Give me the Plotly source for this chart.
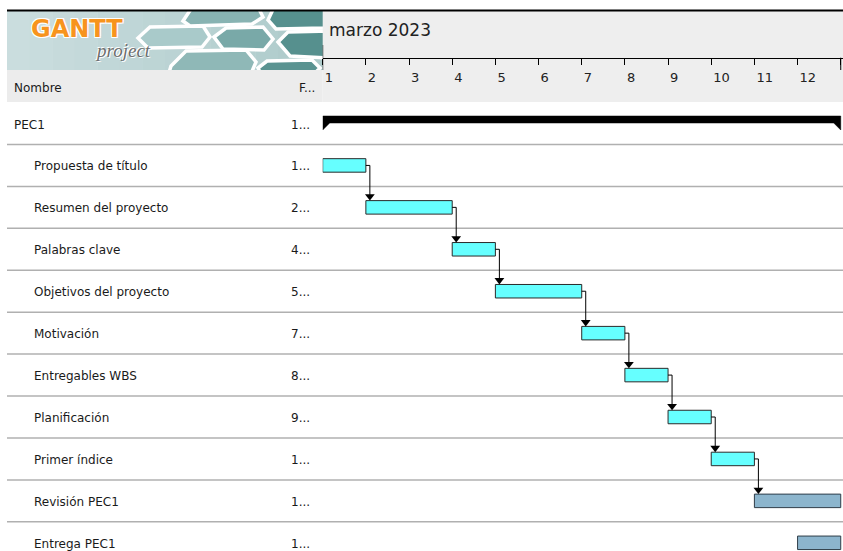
import plotly.graph_objects as go

W, H = 843, 551

# ---------------- data ----------------
month_label = "marzo 2023"
name_header = "Nombre"
date_header = "F..."
summary_name = "PEC1"
summary_date_label = "1..."
task_names = [
    "Propuesta de título", "Resumen del proyecto", "Palabras clave",
    "Objetivos del proyecto", "Motivación", "Entregables WBS",
    "Planificación", "Primer índice", "Revisión PEC1", "Entrega PEC1",
]
task_start = [1, 2, 4, 5, 7, 8, 9, 10, 11, 12]   # day of March 2023
task_end = [2, 4, 5, 7, 8, 9, 10, 11, 13, 13]
task_date_labels = ["1...", "2...", "4...", "5...", "7...", "8...", "9...", "1...", "1...", "1..."]
task_kind = ["normal"] * 8 + ["review", "review"]
dependencies = [
    ("Propuesta de título", "Resumen del proyecto"),
    ("Resumen del proyecto", "Palabras clave"),
    ("Palabras clave", "Objetivos del proyecto"),
    ("Objetivos del proyecto", "Motivación"),
    ("Motivación", "Entregables WBS"),
    ("Entregables WBS", "Planificación"),
    ("Planificación", "Primer índice"),
    ("Primer índice", "Revisión PEC1"),
]
day_ticks = list(range(1, 14))
day_tick_labels = [str(d) for d in range(1, 13)] + [""]

# ---------------- geometry / style ----------------
X0_PX = 322.7          # pixel of day 1
PX_PER_DAY = 43.17
ROW0_PX = 123.5        # pixel centre of first row
ROW_H = 41.93
FONT = "DejaVu Sans"
kind_color = {"normal": "#66ffff", "review": "#8cb5cd"}
kind_line = {"normal": "#2a2a2a", "review": "#2f3d48"}

def py(p):   # pixel y -> paper y
    return 1 - p / H

def px(p):   # pixel x -> paper x
    return p / W

x_range = [day_ticks[0], day_ticks[0] + (W - X0_PX) / PX_PER_DAY]
y_range = [(H - ROW0_PX) / ROW_H, -ROW0_PX / ROW_H]

rows = list(range(1, len(task_names) + 1))
row_of = {n: r for n, r in zip(task_names, rows)}
end_of = dict(zip(task_names, task_end))

fig = go.Figure()

# task bars
bar_w = 13.5 / ROW_H
fig.add_trace(go.Bar(
    orientation="h",
    y=rows,
    base=task_start,
    x=[e - s for s, e in zip(task_start, task_end)],
    width=bar_w,
    marker=dict(color=[kind_color[k] for k in task_kind],
                line=dict(color=[kind_line[k] for k in task_kind], width=1)),
    hoverinfo="skip",
    showlegend=False,
))

# summary bar (PEC1)
s_start, s_end = min(task_start), max(task_end)
top = -7.5 / ROW_H
bot = -0.5 / ROW_H
tip = 6.5 / ROW_H
tw = 7 / PX_PER_DAY
fig.add_trace(go.Scatter(
    x=[s_start, s_end, s_end, s_end - tw, s_start + tw, s_start, s_start],
    y=[top, top, tip, bot, bot, tip, top],
    fill="toself", fillcolor="black", mode="lines",
    line=dict(color="black", width=0.5),
    hoverinfo="skip", showlegend=False,
))

# dependency arrows
x_off = 4 / PX_PER_DAY
half = 7 / ROW_H
lx, ly, ax, ay = [], [], [], []
for a, b in dependencies:
    xe = end_of[a] + x_off
    lx += [end_of[a], xe, xe, None]
    ly += [row_of[a], row_of[a], row_of[b] - half - 2 / ROW_H, None]
    ax.append(xe)
    ay.append(row_of[b] - half - 4 / ROW_H)
fig.add_trace(go.Scatter(x=lx, y=ly, mode="lines",
                         line=dict(color="black", width=1),
                         hoverinfo="skip", showlegend=False))
fig.add_trace(go.Scatter(x=ax, y=ay, mode="markers",
                         marker=dict(symbol="triangle-down", size=8.5, color="black",
                                     line=dict(width=0)),
                         hoverinfo="skip", showlegend=False))

# ---------------- decoration shapes ----------------
shapes = []

def rect(x0, y0, x1, y1, color):
    shapes.append(dict(type="rect", xref="paper", yref="paper",
                       x0=px(x0), x1=px(x1), y0=py(y1), y1=py(y0),
                       fillcolor=color, line=dict(width=0), layer="below"))

def mix(c1, c2, t):
    t = max(0, min(1, t))
    return "rgb(%d,%d,%d)" % tuple(round(a + (b - a) * t) for a, b in zip(c1, c2))

# logo background (soft gradient)
n_strips = 14
for i in range(n_strips):
    x0 = 7 + i * (316 / n_strips)
    x1 = 7 + (i + 1) * (316 / n_strips) + 0.5
    rect(x0, 11, x1, 70, mix((0xca, 0xdd, 0xde), (0xae, 0xcb, 0xcb), i / (n_strips - 1)))

# honeycomb (logo decoration, pixel polygons)
hexes = [
    [(138, 38), (150, 27), (203, 26), (210, 37), (202, 47), (148, 48)],
    [(183, 21), (195, 3), (256, 3), (263, 17), (252, 24), (190, 26)],
    [(268, 20), (276, 3), (330, 3), (334, 20), (324, 28), (276, 29)],
    [(214, 37), (226, 28), (263, 27), (273, 39), (264, 50), (223, 49)],
    [(278, 42), (288, 32), (330, 31), (334, 45), (328, 58), (290, 56)],
    [(171, 66), (186, 51), (246, 50), (256, 62), (250, 76), (168, 76)],
    [(258, 68), (267, 61), (312, 60), (320, 68), (312, 76), (262, 76)],
]
light, dark = (0xa9, 0xca, 0xca), (0x56, 0x90, 0x8e)
for pts in hexes:
    cx = sum(p[0] for p in pts) / len(pts)
    path = "M " + " L ".join("%f,%f" % (px(x), py(y)) for x, y in pts) + " Z"
    shapes.append(dict(type="path", xref="paper", yref="paper", path=path,
                       fillcolor=mix(light, dark, (cx - 175) / 120),
                       line=dict(color="white", width=3.5), layer="below"))

rect(0, 0, W, 10, "white")               # cover above header
rect(0, 0, 7, 102, "white")
rect(322.7, 11, W, 102, "#eeeeee")       # timeline header
rect(7, 70, 322.7, 102, "#ececec")       # table header
shapes.append(dict(type="line", xref="paper", yref="paper",
                   x0=px(7), x1=1, y0=py(10.5), y1=py(10.5),
                   line=dict(color="black", width=2), layer="below"))
# taller month tick at day 1 and closing tick
shapes.append(dict(type="line", xref="x", yref="paper", x0=day_ticks[0], x1=day_ticks[0],
                   y0=py(45), y1=py(70), line=dict(color="black", width=1)))
shapes.append(dict(type="line", xref="x", yref="paper", x0=day_ticks[-1], x1=day_ticks[-1],
                   y0=py(57.7), y1=py(70), line=dict(color="black", width=1)))
# row separators
for r in [0] + rows:
    shapes.append(dict(type="line", xref="paper", yref="y", x0=px(7), x1=1,
                       y0=r + 0.5, y1=r + 0.5,
                       line=dict(color="#b0b0b0", width=1.5), layer="below"))

# ---------------- text ----------------
ann = []
def text(x, y, s, size=12, color="#1a1a1a", xref="paper", yref="paper", family=FONT, **kw):
    ann.append(dict(x=x, y=y, xref=xref, yref=yref, text=s, showarrow=False,
                    xanchor=kw.pop("xanchor", "left"), yanchor="middle",
                    font=dict(family=family, size=size, color=color, **kw.pop("font", {})), **kw))

text(day_ticks[0], py(30), month_label, size=17, color="#222", xref="x", xshift=4)
text(px(12), py(87.5), name_header, size=12)
text(px(297), py(87.5), date_header, size=12)
text(px(12), 0, summary_name, size=12, yref="y", yshift=-1)
text(px(289), 0, summary_date_label, size=12, yref="y", yshift=-1)
for n, r, d in zip(task_names, rows, task_date_labels):
    text(px(32), r, n, size=12, yref="y", yshift=-1)
    text(px(289), r, d, size=12, yref="y", yshift=-1)

# logo text
text(px(77), py(29), "GANTT", size=24, color="#f7941d", xanchor="center",
     family="DejaVu Sans", font=dict(weight="bold",
     shadow="1px 1px 0 #fff, -1px -1px 0 #fff, 1px -1px 0 #fff, -1px 1px 0 #fff"))
text(px(123), py(50), "project", size=19, color="#6e6e6e", xanchor="center",
     family="Liberation Serif", font=dict(style="italic",
     shadow="1px 1px 0 #fff, -1px -1px 0 #fff"))

fig.update_layout(
    width=W, height=H,
    margin=dict(l=0, r=0, t=0, b=0),
    paper_bgcolor="white", plot_bgcolor="rgba(0,0,0,0)",
    showlegend=False,
    shapes=shapes, annotations=ann,
    xaxis=dict(
        domain=[X0_PX / W, 1], range=x_range, anchor="free", position=py(57.7),
        side="bottom", showline=True, linecolor="black", linewidth=1,
        ticks="outside", ticklen=6, tickwidth=1, tickcolor="black",
        tickmode="array", tickvals=day_ticks, ticktext=day_tick_labels,
        ticklabelposition="outside right", ticklabelshift=1, ticklabelstandoff=8,
        tickfont=dict(family=FONT, size=13, color="#222"),
        showgrid=False, zeroline=False, fixedrange=True,
    ),
    yaxis=dict(domain=[0, 1], range=y_range, visible=False, showgrid=False,
               zeroline=False, fixedrange=True),
)

fig.write_html("out.html")
